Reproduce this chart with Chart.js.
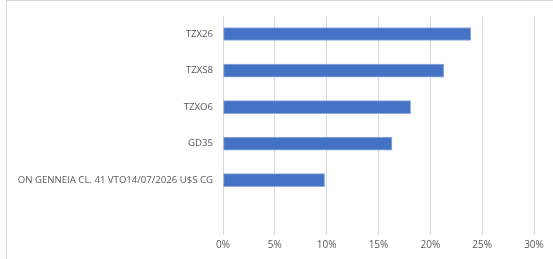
<!DOCTYPE html>
<html>
<head>
<meta charset="utf-8">
<script src="https://cdn.jsdelivr.net/npm/chart.js@4.4.0/dist/chart.umd.min.js"></script>
<style>
  html, body { margin: 0; padding: 0; background: #fff; }
  #wrap { position: relative; width: 553px; height: 259px; }
  #frame { position: absolute; left: 6px; top: 0; width: 560px; height: 270px;
           border-left: 1px solid #d9d9d9; border-top: 1px solid #d9d9d9; }
</style>
</head>
<body>
<div id="wrap">
  <div id="frame"></div>
  <canvas id="bondChart" width="553" height="259"></canvas>
</div>
<script>
var bonds = ['TZX26', 'TZXS8', 'TZXO6', 'GD35', 'ON GENNEIA CL. 41 VTO14/07/2026 U$S CG', ''];
var weights = [0.239, 0.213, 0.181, 0.163, 0.098, null];
var xTicks = [0, 0.05, 0.10, 0.15, 0.20, 0.25, 0.30];

var ctx = document.getElementById('bondChart').getContext('2d');
var bondChart = new Chart(ctx, {
    type: 'bar',
    data: {
        labels: bonds,
        datasets: [{
            data: weights,
            backgroundColor: '#4472C4',
            borderColor: '#8fabdd',
            borderWidth: 1,
            borderSkipped: false,
            barThickness: 13
        }]
    },
    options: {
        indexAxis: 'y',
        responsive: false,
        animation: false,
        layout: { padding: { left: 0, right: 19, top: 12, bottom: 3 } },
        plugins: {
            legend: { display: false },
            tooltip: { enabled: false }
        },
        scales: {
            x: {
                min: 0,
                max: 0.3,
                afterBuildTicks: function (axis) {
                    axis.ticks = xTicks.map(function (v) { return { value: v }; });
                },
                ticks: {
                    color: '#595959',
                    font: { family: 'Open Sans', size: 10 },
                    padding: 4,
                    maxRotation: 0,
                    callback: function (v) { return Math.round(v * 100) + '%'; }
                },
                grid: { color: '#d9d9d9', drawTicks: false },
                border: { display: false },
                afterFit: function (axis) { axis.height = 21; }
            },
            y: {
                ticks: {
                    color: '#595959',
                    font: { family: 'Open Sans', size: 9.6 },
                    padding: 10
                },
                grid: { display: false, drawTicks: false },
                border: { display: false },
                afterFit: function (axis) { axis.width = 223; }
            }
        }
    }
});
</script>
</body>
</html>
